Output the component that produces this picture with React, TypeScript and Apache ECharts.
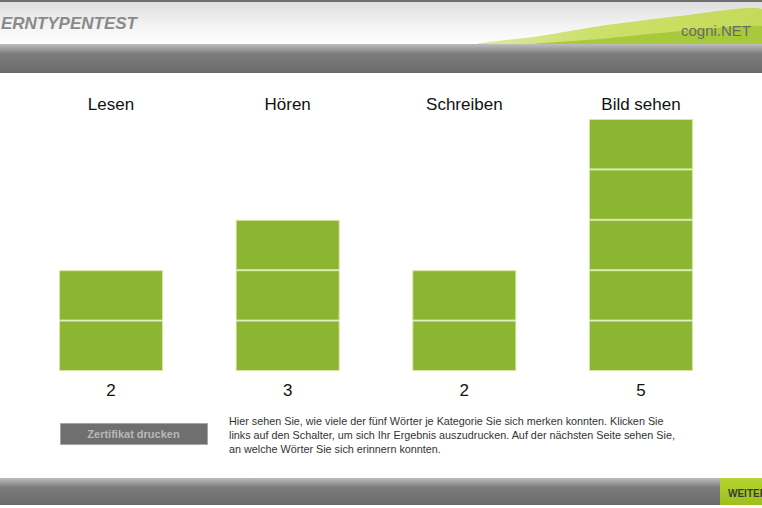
import React, { useEffect, useRef } from "react";
import * as echarts from "echarts";

const categories = ["Lesen", "Hören", "Schreiben", "Bild sehen"];
const values = [2, 3, 2, 5];
const maxWords = 5;
const infoLines = [
  "Hier sehen Sie, wie viele der fünf Wörter je Kategorie Sie sich merken konnten. Klicken Sie",
  "links auf den Schalter, um sich Ihr Ergebnis auszudrucken. Auf der nächsten Seite sehen Sie,",
  "an welche Wörter Sie sich erinnern konnten.",
];

const FONT = "Arial, 'Liberation Sans', sans-serif";

export default function App() {
  const ref = useRef<HTMLDivElement>(null);
  useEffect(() => {
    const chart = echarts.init(ref.current!, null, { renderer: "svg" });
    const units = Array.from({ length: maxWords }, (_, i) => i + 1);
    const series = units.map((k) => ({
      type: "bar",
      stack: "words",
      barWidth: 104,
      silent: true,
      data: values.map((v) => (v >= k ? 1 : "-")),
      itemStyle: { color: "#8cb532", borderColor: "#d6e8a8", borderWidth: 1 },
    }));

    const grayBar = (y1: number, y2: number) => ({
      type: "rect",
      shape: { x: 0, y: y1, width: 762, height: y2 - y1 },
      style: {
        fill: new echarts.graphic.LinearGradient(0, 0, 0, 1, [
          { offset: 0, color: "#bdbdbd" },
          { offset: 0.35, color: "#7c7c7c" },
          { offset: 1, color: "#6a6a6a" },
        ]),
      },
      silent: true,
    });

    chart.setOption({
      animation: false,
      backgroundColor: "#ffffff",
      grid: { left: 22.7, right: 32.7, top: 119, bottom: 137 },
      xAxis: [
        {
          type: "category",
          position: "bottom",
          data: categories,
          axisLine: { show: false },
          axisTick: { show: false },
          axisLabel: {
            margin: 11,
            fontSize: 17,
            color: "#111",
            fontFamily: FONT,
            formatter: (_: string, i: number) => String(values[i]),
          },
        },
        {
          type: "category",
          position: "top",
          data: categories,
          axisLine: { show: false },
          axisTick: { show: false },
          axisLabel: { margin: 6, fontSize: 17, color: "#111", fontFamily: FONT },
        },
      ],
      yAxis: {
        type: "value",
        min: 0,
        max: maxWords,
        show: false,
        splitLine: { show: false },
      },
      series,
      graphic: [
        // header background
        {
          type: "rect",
          shape: { x: 0, y: 0, width: 762, height: 44 },
          style: {
            fill: new echarts.graphic.LinearGradient(0, 0, 0, 1, [
              { offset: 0, color: "#dcdcdc" },
              { offset: 0.6, color: "#f4f4f4" },
              { offset: 1, color: "#ffffff" },
            ]),
          },
          silent: true,
        },
        {
          type: "rect",
          shape: { x: 0, y: 0, width: 762, height: 2 },
          style: { fill: "#6e6e6e" },
          silent: true,
        },
        // green swoosh
        {
          type: "polygon",
          shape: {
            points: [
              [478, 44],
              [540, 36],
              [600, 26],
              [680, 16],
              [762, 9],
              [762, 44],
            ],
            smooth: 0.2,
          },
          style: {
            fill: new echarts.graphic.LinearGradient(0, 0, 1, 0, [
              { offset: 0, color: "#dde9a0" },
              { offset: 0.4, color: "#cde06a" },
              { offset: 1, color: "#c4da58" },
            ]),
          },
          silent: true,
        },
        {
          type: "polygon",
          shape: {
            points: [
              [535, 44],
              [600, 39],
              [660, 33],
              [762, 26],
              [762, 44],
            ],
            smooth: 0.2,
          },
          style: { fill: "#a9c93c" },
          silent: true,
        },
        {
          type: "text",
          x: 137,
          y: 23,
          style: {
            text: "LERNTYPENTEST",
            fill: "#8a8a8a",
            font: "italic bold 17px " + FONT,
            align: "right",
            verticalAlign: "middle",
          },
          silent: true,
        },
        {
          type: "text",
          x: 681,
          y: 30,
          style: {
            text: "cogni.NET",
            fill: "#6a6a6a",
            font: "15px " + FONT,
            verticalAlign: "middle",
          },
          silent: true,
        },
        grayBar(44, 73),
        grayBar(478, 505),
        // WEITER button
        {
          type: "rect",
          shape: { x: 720, y: 478, width: 42, height: 27 },
          style: {
            fill: new echarts.graphic.LinearGradient(0, 0, 0, 1, [
              { offset: 0, color: "#b6d431" },
              { offset: 1, color: "#9bbf1c" },
            ]),
          },
          silent: true,
        },
        {
          type: "text",
          x: 728,
          y: 493,
          style: {
            text: "WEITER",
            fill: "#3a3a3a",
            font: "bold 10px " + FONT,
            verticalAlign: "middle",
          },
          silent: true,
        },
        // certificate button
        {
          type: "rect",
          shape: { x: 60.5, y: 423.5, width: 147, height: 21 },
          style: { fill: "#6f6f6f", stroke: "#a5a5a5", lineWidth: 1 },
          silent: true,
        },
        {
          type: "text",
          x: 133.5,
          y: 434,
          style: {
            text: "Zertifikat drucken",
            fill: "#b8b8b8",
            font: "bold 11px " + FONT,
            align: "center",
            verticalAlign: "middle",
          },
          silent: true,
        },
        ...infoLines.map((t, i) => ({
          type: "text",
          x: 229,
          y: 421 + i * 14,
          style: {
            text: t,
            fill: "#333",
            font: "10.8px " + FONT,
            verticalAlign: "middle",
          },
          silent: true,
        })),
      ],
    });
    return () => chart.dispose();
  }, []);

  return (
    <div
      ref={ref}
      style={{ position: "fixed", left: 0, top: 0, width: 762, height: 508 }}
    />
  );
}
